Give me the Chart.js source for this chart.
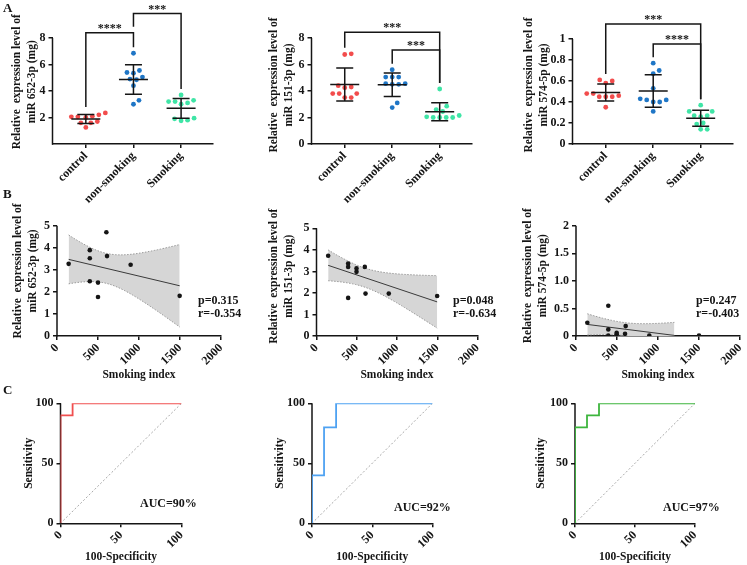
<!DOCTYPE html>
<html>
<head>
<meta charset="utf-8">
<script src="https://cdn.jsdelivr.net/npm/chart.js@4.4.1/dist/chart.umd.min.js"></script>
<style>
  body { margin: 0; width: 747px; height: 565px; overflow: hidden; position: relative; background: #fff; }
  canvas { position: absolute; }
  .tag, .note { position: absolute; z-index: 2; font-family: 'Liberation Serif', 'Times New Roman', serif; font-weight: bold; color: #151515; white-space: nowrap; }
  .tag { font-size: 13px; line-height: 13px; }
  .note { font-size: 12px; line-height: 13px; }
</style>
</head>
<body>
<div class="tag" style="left:3px;top:1px">A</div>
<div class="tag" style="left:3px;top:187px">B</div>
<div class="tag" style="left:3px;top:383px">C</div>

<div class="note" style="left:198px;top:294px">p=0.315<br>r=-0.354</div>
<div class="note" style="left:453px;top:294px">p=0.048<br>r=-0.634</div>
<div class="note" style="left:696px;top:294px">p=0.247<br>r=-0.403</div>
<div class="note" style="left:140px;top:497px">AUC=90%</div>
<div class="note" style="left:394px;top:501px">AUC=92%</div>
<div class="note" style="left:663px;top:501px">AUC=97%</div>

<script>
// ---- data ----
const groups = ['control', 'non-smoking', 'Smoking'];

// A: expression per group
const a1Control    = [2.2, 2.05, 2.05, 2.1, 2.35, 1.7, 1.6, 1.6, 1.25, 2.0];
const a1NonSmoking = [6.85, 5.55, 5.4, 5.35, 5.05, 4.9, 4.85, 4.4, 3.3, 3.0];
const a1Smoking    = [3.7, 3.3, 3.2, 3.1, 3.0, 3.2, 1.95, 1.75, 1.8, 1.9];

const a2Control    = [6.75, 6.8, 4.3, 4.25, 4.4, 3.8, 3.8, 3.5, 3.5, 3.8];
const a2NonSmoking = [5.6, 5.05, 5.05, 5.05, 4.55, 4.5, 4.5, 4.55, 3.1, 2.75];
const a2Smoking    = [4.15, 2.85, 2.6, 2.45, 2.0, 2.0, 2.0, 2.05, 2.15, 2.0];

const a3Control    = [0.6, 0.58, 0.61, 0.48, 0.45, 0.45, 0.45, 0.48, 0.46, 0.35];
const a3NonSmoking = [0.77, 0.7, 0.67, 0.53, 0.42, 0.4, 0.4, 0.42, 0.43, 0.31];
const a3Smoking    = [0.37, 0.31, 0.27, 0.26, 0.27, 0.31, 0.19, 0.2, 0.14, 0.14];

// significance brackets: [from group, to group, level, label]
const a1Brackets = [[0, 1, 8.4, '****'], [1, 2, 9.85, '***']];
const a2Brackets = [[0, 2, 8.43, '***'], [1, 2, 7.09, '***']];
const a3Brackets = [[0, 2, 1.143, '***'], [1, 2, 0.952, '****']];

const a1YTicks = [2, 4, 6, 8],              a1YLabels = ['2', '4', '6', '8'];
const a2YTicks = [0, 2, 4, 6, 8],           a2YLabels = ['0', '2', '4', '6', '8'];
const a3YTicks = [0, 0.2, 0.4, 0.6, 0.8, 1], a3YLabels = ['0', '0.2', '0.4', '0.6', '0.8', '1'];

// B: smoking index vs expression
const b1Index = [142, 400, 400, 400, 500, 500, 602, 610, 898, 1496];
const b1Level = [3.27, 3.89, 3.52, 2.48, 2.42, 1.77, 4.7, 3.62, 3.23, 1.82];
const b2Index = [145, 393, 393, 393, 497, 497, 600, 609, 898, 1499];
const b2Level = [3.73, 3.37, 3.21, 1.77, 3.14, 2.98, 3.21, 1.97, 1.97, 1.86];
const b3Index = [138, 394, 394, 394, 496, 496, 606, 598, 894, 1500];
const b3Level = [0.24, 0.55, 0.12, 0.01, 0.06, 0.03, 0.18, 0.04, 0.01, 0.01];
const b3FitEnd = 1200; // the band in the figure stops here

const smokingTicks = [0, 500, 1000, 1500, 2000];
const smokingLabels = ['0', '500', '1000', '1500', '2000'];
const bYTicks = [0, 1, 2, 3, 4, 5], bYLabels = ['0', '1', '2', '3', '4', '5'];
const b3YTicks = [0, 0.5, 1, 1.5, 2], b3YLabels = ['0', '0.5', '1.0', '1.5', '2'];

// C: ROC curves (100-specificity, sensitivity)
const roc1X = [0, 0, 10, 10, 100],         roc1Y = [0, 90, 90, 100, 100];
const roc2X = [0, 0, 10, 10, 20, 20, 100], roc2Y = [0, 40, 40, 80, 80, 100, 100];
const roc3X = [0, 0, 10, 10, 20, 20, 100], roc3Y = [0, 80, 80, 90, 90, 100, 100];
const rocTicks = [0, 50, 100], rocLabels = ['0', '50', '100'];

// ---- styling ----
const INK = '#151515';
const SERIF = "'Liberation Serif', 'Times New Roman', serif";
const groupColors = ['#f24c4c', '#1f76c6', '#3fe5a6'];
const tickFont = { family: SERIF, size: 12, weight: 'bold' };
const titleFont = { family: SERIF, size: 11.5, weight: 'bold', lineHeight: 1.3 };

Chart.defaults.font.family = SERIF;
Chart.defaults.color = INK;

function mean(v) { return v.reduce((a, b) => a + b, 0) / v.length; }
function stdev(v) {
  const m = mean(v);
  return Math.sqrt(v.reduce((a, b) => a + (b - m) ** 2, 0) / (v.length - 1));
}

// y axis line that stops at the last tick (like the original)
function yAxisLine(top) {
  return {
    id: 'yAxisLine',
    beforeDatasetsDraw(chart) {
      const { ctx, scales: { x, y } } = chart;
      ctx.save();
      ctx.strokeStyle = INK;
      ctx.lineWidth = 1.5;
      ctx.beginPath();
      ctx.moveTo(x.left, y.bottom + 0.75);
      ctx.lineTo(x.left, y.getPixelForValue(top));
      ctx.stroke();
      ctx.restore();
    }
  };
}

// mean +/- SD bars and significance brackets
function groupMarks(groupValues, brackets) {
  return {
    id: 'groupMarks',
    afterDatasetsDraw(chart) {
      const { ctx, scales: { x, y } } = chart;
      const stats = groupValues.map(v => {
        const m = mean(v), sd = stdev(v);
        return { m, sd, top: Math.max(Math.max(...v), m + sd) };
      });
      ctx.save();
      ctx.strokeStyle = INK;
      ctx.lineWidth = 1.5;
      stats.forEach((s, g) => {
        const cx = x.getPixelForValue(g + 1);
        const pm = y.getPixelForValue(s.m);
        const ph = y.getPixelForValue(s.m + s.sd);
        const pl = y.getPixelForValue(s.m - s.sd);
        ctx.beginPath();
        ctx.moveTo(cx - 14.5, pm); ctx.lineTo(cx + 14.5, pm);
        ctx.moveTo(cx, ph); ctx.lineTo(cx, pl);
        ctx.moveTo(cx - 8.5, ph); ctx.lineTo(cx + 8.5, ph);
        ctx.moveTo(cx - 8.5, pl); ctx.lineTo(cx + 8.5, pl);
        ctx.stroke();
      });

      ctx.font = 'bold 12px ' + SERIF;
      ctx.fillStyle = INK;
      ctx.textAlign = 'center';
      ctx.textBaseline = 'alphabetic';
      brackets.forEach(([i, j, level, label]) => {
        // leg stops a little above the group, or above a lower bracket it would run into
        const legEnd = g => {
          let floor = stats[g].top;
          brackets.forEach(([oi, oj, ol]) => {
            if (ol < level && ((oi < g && g < oj) || (g === i && oj === g) || (g === j && oi === g))) {
              floor = Math.max(floor, ol);
            }
          });
          return y.getPixelForValue(floor) - 6;
        };
        const xi = x.getPixelForValue(i + 1), xj = x.getPixelForValue(j + 1);
        const py = y.getPixelForValue(level);
        ctx.beginPath();
        ctx.moveTo(xi, legEnd(i));
        ctx.lineTo(xi, py);
        ctx.lineTo(xj, py);
        ctx.lineTo(xj, legEnd(j));
        ctx.stroke();
        ctx.fillText(label, (xi + xj) / 2, py - 1);
      });
      ctx.restore();
    }
  };
}

function makePanel(p) {
  const cv = document.createElement('canvas');
  cv.width = p.box.w;
  cv.height = p.box.h;
  cv.style.left = p.box.x + 'px';
  cv.style.top = p.box.y + 'px';
  document.body.appendChild(cv);
  const a = p.area;
  const grid = () => ({ drawOnChartArea: false, tickLength: 4, color: INK, lineWidth: 1.5 });

  return new Chart(cv, {
    type: 'scatter',
    data: { datasets: p.datasets },
    options: {
      responsive: false,
      animation: false,
      devicePixelRatio: 1,
      events: [],
      layout: { padding: { left: 0, top: a.t - p.box.y, right: p.box.x + p.box.w - a.r, bottom: 0 } },
      plugins: { legend: { display: false }, tooltip: { enabled: false } },
      scales: {
        x: {
          type: 'linear', bounds: 'data', min: p.xRange[0], max: p.xRange[1],
          afterFit: s => { s.height = p.box.y + p.box.h - a.b; },
          afterBuildTicks: s => { s.ticks = p.xTicks.map(v => ({ value: v })); },
          ticks: { autoSkip: false, minRotation: 45, maxRotation: 45, padding: 1, font: tickFont, color: INK,
                   callback: (v, i) => p.xLabels[i] },
          grid: grid(),
          border: { display: true, color: INK, width: 1.5 },
          title: { display: !!p.xTitle, text: p.xTitle || '', font: titleFont, color: INK, padding: 0 }
        },
        y: {
          type: 'linear', bounds: 'data', min: p.yRange[0], max: p.yRange[1],
          afterFit: s => { s.width = a.l - p.box.x; },
          afterBuildTicks: s => { s.ticks = p.yTicks.map(v => ({ value: v })); },
          ticks: { autoSkip: false, padding: 3, font: tickFont, color: INK,
                   callback: (v, i) => p.yLabels[i] },
          grid: grid(),
          border: { display: false },
          title: { display: true, text: p.yTitle, font: titleFont, color: INK, padding: 0 }
        }
      }
    },
    plugins: [yAxisLine(p.yTicks[p.yTicks.length - 1])].concat(p.plugins || [])
  });
}

// spread points of one group sideways so they don't overlap (pixel space)
function swarm(py, d) {
  const order = py.map((v, i) => i).sort((i, j) => py[j] - py[i]);
  const placed = [], out = [];
  order.forEach(i => {
    for (let k = 0; ; k++) {
      const dx = (k % 2 ? 1 : -1) * Math.ceil(k / 2) * 0.5;
      if (placed.every(q => (q.x - dx) ** 2 + (q.y - py[i]) ** 2 >= d * d)) {
        placed.push({ x: dx, y: py[i] });
        out[i] = dx;
        break;
      }
    }
  });
  return out;
}

function spreadGroups(chart, groupValues) {
  const x = chart.scales.x, y = chart.scales.y;
  const pxPerUnit = x.getPixelForValue(1) - x.getPixelForValue(0);
  chart.data.datasets.forEach((ds, g) => {
    const vals = groupValues[g];
    const offs = swarm(vals.map(v => y.getPixelForValue(v)), 6.5);
    ds.data = vals.map((v, i) => ({ x: g + 1 + offs[i] / pxPerUnit, y: v }));
  });
  chart.update();
}

// least squares line with 95% confidence band
function fitBand(xs, ys, xEnd) {
  const n = xs.length;
  const mx = mean(xs), my = mean(ys);
  let sxx = 0, sxy = 0, sse = 0;
  xs.forEach((x, i) => { sxx += (x - mx) ** 2; sxy += (x - mx) * (ys[i] - my); });
  const slope = sxy / sxx, b0 = my - slope * mx;
  xs.forEach((x, i) => { sse += (ys[i] - b0 - slope * x) ** 2; });
  const s = Math.sqrt(sse / (n - 2));
  const t = 2.306; // t(0.975), 8 degrees of freedom
  const x0 = Math.min(...xs), x1 = xEnd || Math.max(...xs);
  const upper = [], lower = [];
  for (let k = 0; k <= 40; k++) {
    const x = x0 + (x1 - x0) * k / 40;
    const yh = b0 + slope * x;
    const h = t * s * Math.sqrt(1 / n + (x - mx) ** 2 / sxx);
    upper.push({ x, y: yh + h });
    lower.push({ x, y: yh - h });
  }
  return { line: [{ x: x0, y: b0 + slope * x0 }, { x: x1, y: b0 + slope * x1 }], upper, lower };
}

// ---- panel A ----
const aPanels = [
  { box: { x: 10, y: 0, w: 235, h: 205 }, area: { l: 52.5, r: 213, t: 19.5, b: 144 }, yRange: [0, 9.4],
    yTicks: a1YTicks, yLabels: a1YLabels, yTitle: ['Relative  expression level of', 'miR 652-3p (mg)'],
    values: [a1Control, a1NonSmoking, a1Smoking], brackets: a1Brackets },
  { box: { x: 267, y: 0, w: 235, h: 205 }, area: { l: 311.5, r: 471.5, t: 26, b: 144 }, yRange: [0, 8.9],
    yTicks: a2YTicks, yLabels: a2YLabels, yTitle: ['Relative  expression level of', 'miR 151-3p (mg)'],
    values: [a2Control, a2NonSmoking, a2Smoking], brackets: a2Brackets },
  { box: { x: 522, y: 0, w: 225, h: 205 }, area: { l: 572.5, r: 732.5, t: 26, b: 144 }, yRange: [0, 1.124],
    yTicks: a3YTicks, yLabels: a3YLabels, yTitle: ['Relative  expression level of', 'miR 574-5p (mg)'],
    values: [a3Control, a3NonSmoking, a3Smoking], brackets: a3Brackets }
];

aPanels.forEach(p => {
  const chart = makePanel({
    box: p.box, area: p.area, yRange: p.yRange, yTicks: p.yTicks, yLabels: p.yLabels, yTitle: p.yTitle,
    xRange: [0.3, 3.67], xTicks: [1, 2, 3], xLabels: groups,
    datasets: p.values.map((v, g) => ({
      data: v.map(y => ({ x: g + 1, y })),
      pointRadius: 2.4, pointBorderWidth: 0,
      backgroundColor: groupColors[g], pointBackgroundColor: groupColors[g]
    })),
    plugins: [groupMarks(p.values, p.brackets)]
  });
  spreadGroups(chart, p.values);
});

// ---- panel B ----
const bPanels = [
  { box: { x: 11, y: 185, w: 249, h: 198 }, area: { l: 57, r: 221, t: 205.8, b: 336 }, yRange: [0, 5.9],
    yTicks: bYTicks, yLabels: bYLabels, yTitle: ['Relative  expression level of', 'miR 652-3p (mg)'],
    xs: b1Index, ys: b1Level },
  { box: { x: 267, y: 185, w: 233, h: 198 }, area: { l: 316.5, r: 477.5, t: 216.3, b: 336 }, yRange: [0, 5.56],
    yTicks: bYTicks, yLabels: bYLabels, yTitle: ['Relative  expression level of', 'miR 151-3p (mg)'],
    xs: b2Index, ys: b2Level },
  { box: { x: 521, y: 185, w: 234, h: 198 }, area: { l: 576, r: 740, t: 215.3, b: 336 }, yRange: [0, 2.19],
    yTicks: b3YTicks, yLabels: b3YLabels, yTitle: ['Relative  expression level of', 'miR 574-5p (mg)'],
    xs: b3Index, ys: b3Level, fitEnd: b3FitEnd }
];

bPanels.forEach(p => {
  const fit = fitBand(p.xs, p.ys, p.fitEnd);
  const edge = { showLine: true, pointRadius: 0, borderColor: '#9a9a9a', borderWidth: 1, borderDash: [1.5, 1.5] };
  makePanel({
    box: p.box, area: p.area, yRange: p.yRange, yTicks: p.yTicks, yLabels: p.yLabels, yTitle: p.yTitle,
    xRange: [0, 2000], xTicks: smokingTicks, xLabels: smokingLabels, xTitle: 'Smoking index',
    datasets: [
      { data: p.xs.map((x, i) => ({ x, y: p.ys[i] })), pointRadius: 2.3, pointBorderWidth: 0,
        backgroundColor: INK, pointBackgroundColor: INK },
      { data: fit.line, showLine: true, pointRadius: 0, borderColor: '#3a3a3a', borderWidth: 1 },
      Object.assign({ data: fit.upper }, edge),
      Object.assign({ data: fit.lower, fill: '-1', backgroundColor: '#d6d6d6' }, edge)
    ]
  });
});

// ---- panel C ----
const cPanels = [
  { box: { x: 22, y: 380, w: 190, h: 185 }, area: { l: 60.5, r: 181.5, t: 403.3, b: 523.3 },
    fx: roc1X, fy: roc1Y, color: '#f04f4f' },
  { box: { x: 273, y: 380, w: 190, h: 185 }, area: { l: 312, r: 432.5, t: 403.3, b: 523.3 },
    fx: roc2X, fy: roc2Y, color: '#4ea2f2' },
  { box: { x: 534, y: 380, w: 200, h: 185 }, area: { l: 575, r: 695, t: 403.3, b: 523.3 },
    fx: roc3X, fy: roc3Y, color: '#3db53d' }
];

cPanels.forEach(p => {
  const lo = rocTicks[0], hi = rocTicks[rocTicks.length - 1];
  makePanel({
    box: p.box, area: p.area, yRange: [lo, hi], yTicks: rocTicks, yLabels: rocLabels, yTitle: 'Sensitivity',
    xRange: [lo, hi], xTicks: rocTicks, xLabels: rocLabels, xTitle: '100-Specificity',
    datasets: [
      { data: p.fx.map((x, i) => ({ x, y: p.fy[i] })), showLine: true, pointRadius: 0,
        borderColor: p.color, borderWidth: 1.8 },
      { data: [{ x: lo, y: lo }, { x: hi, y: hi }], showLine: true, pointRadius: 0,
        borderColor: '#a8a8a8', borderWidth: 1, borderDash: [2, 2] }
    ]
  });
});
</script>
</body>
</html>
